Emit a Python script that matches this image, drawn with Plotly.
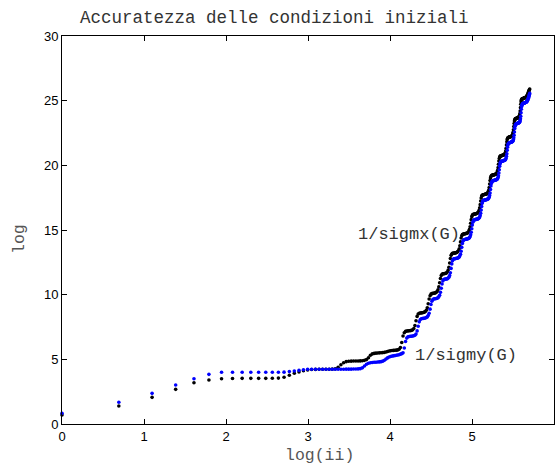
import numpy as np
import plotly.graph_objects as go

# iteration index and the two accuracy curves (log of 1/sigma)
ii = list(range(1, 301))

sigmx_log = [
    0.70, 1.39, 2.06, 2.68, 3.19, 3.40, 3.50, 3.52, 3.53, 3.53,
    3.53, 3.53, 3.54, 3.55, 3.62, 3.77, 3.92, 4.02, 4.12, 4.18,
    4.21, 4.22, 4.23, 4.23, 4.23, 4.23, 4.24, 4.26, 4.38, 4.58,
    4.74, 4.82, 4.85, 4.86, 4.87, 4.87, 4.87, 4.88, 4.89, 4.92,
    4.98, 5.12, 5.32, 5.42, 5.46, 5.48, 5.49, 5.50, 5.51, 5.52,
    5.54, 5.57, 5.61, 5.64, 5.66, 5.68, 5.69, 5.70, 5.71, 5.73,
    5.78, 5.92, 6.30, 6.80, 7.06, 7.16, 7.19, 7.20, 7.21, 7.22,
    7.24, 7.28, 7.38, 7.62, 7.98, 8.32, 8.50, 8.56, 8.58, 8.59,
    8.60, 8.62, 8.65, 8.70, 8.80, 8.98, 9.30, 9.66, 9.92, 10.04,
    10.08, 10.10, 10.11, 10.12, 10.14, 10.18, 10.25, 10.38, 10.60, 10.92,
    11.25, 11.48, 11.58, 11.61, 11.62, 11.63, 11.64, 11.66, 11.70, 11.77,
    11.90, 12.12, 12.45, 12.80, 13.04, 13.15, 13.19, 13.20, 13.21, 13.22,
    13.23, 13.24, 13.26, 13.29, 13.34, 13.42, 13.55, 13.78, 14.08, 14.38,
    14.56, 14.64, 14.67, 14.69, 14.70, 14.71, 14.72, 14.73, 14.74, 14.76,
    14.79, 14.84, 14.92, 15.05, 15.25, 15.52, 15.80, 16.02, 16.14, 16.19,
    16.21, 16.22, 16.23, 16.24, 16.25, 16.26, 16.27, 16.29, 16.32, 16.36,
    16.43, 16.54, 16.72, 16.96, 17.24, 17.48, 17.62, 17.68, 17.71, 17.72,
    17.73, 17.74, 17.75, 17.76, 17.77, 17.78, 17.79, 17.81, 17.84, 17.89,
    17.96, 18.08, 18.28, 18.55, 18.82, 19.02, 19.14, 19.19, 19.22, 19.23,
    19.24, 19.25, 19.26, 19.27, 19.28, 19.29, 19.30, 19.31, 19.33, 19.36,
    19.41, 19.49, 19.62, 19.82, 20.08, 20.34, 20.53, 20.64, 20.69, 20.72,
    20.73, 20.74, 20.75, 20.76, 20.77, 20.78, 20.79, 20.80, 20.81, 20.83,
    20.86, 20.91, 20.99, 21.12, 21.32, 21.58, 21.82, 21.99, 22.08, 22.13,
    22.15, 22.16, 22.17, 22.18, 22.19, 22.20, 22.21, 22.22, 22.23, 22.24,
    22.26, 22.29, 22.34, 22.42, 22.55, 22.75, 23.00, 23.24, 23.42, 23.52,
    23.57, 23.60, 23.61, 23.62, 23.63, 23.64, 23.65, 23.66, 23.67, 23.68,
    23.69, 23.71, 23.74, 23.79, 23.87, 24.00, 24.20, 24.46, 24.72, 24.92,
    25.04, 25.10, 25.13, 25.14, 25.15, 25.16, 25.17, 25.18, 25.19, 25.20,
    25.21, 25.22, 25.23, 25.24, 25.25, 25.26, 25.28, 25.30, 25.33, 25.36,
    25.40, 25.45, 25.50, 25.56, 25.62, 25.68, 25.74, 25.80, 25.85, 25.90,
]

sigmy_log = [
    0.83, 1.68, 2.37, 3.02, 3.50, 3.84, 4.00, 4.00, 4.00, 4.00,
    4.00, 4.00, 4.00, 4.00, 4.01, 4.05, 4.10, 4.15, 4.20, 4.23,
    4.23, 4.23, 4.23, 4.23, 4.23, 4.23, 4.23, 4.23, 4.23, 4.23,
    4.23, 4.24, 4.24, 4.24, 4.25, 4.25, 4.26, 4.28, 4.34, 4.48,
    4.62, 4.70, 4.74, 4.76, 4.77, 4.78, 4.79, 4.80, 4.82, 4.86,
    4.93, 5.02, 5.11, 5.18, 5.22, 5.25, 5.27, 5.29, 5.31, 5.33,
    5.36, 5.40, 5.44, 5.50, 5.88, 6.38, 6.64, 6.74, 6.77, 6.78,
    6.79, 6.80, 6.82, 6.86, 6.96, 7.20, 7.56, 7.90, 8.08, 8.14,
    8.16, 8.17, 8.18, 8.20, 8.23, 8.28, 8.38, 8.56, 8.88, 9.24,
    9.50, 9.62, 9.66, 9.68, 9.69, 9.70, 9.72, 9.76, 9.83, 9.96,
    10.18, 10.50, 10.83, 11.06, 11.16, 11.19, 11.20, 11.21, 11.22, 11.24,
    11.28, 11.35, 11.48, 11.70, 12.03, 12.38, 12.62, 12.73, 12.77, 12.78,
    12.79, 12.80, 12.81, 12.82, 12.84, 12.87, 12.92, 13.00, 13.13, 13.36,
    13.66, 13.96, 14.14, 14.22, 14.25, 14.27, 14.28, 14.29, 14.30, 14.31,
    14.32, 14.34, 14.37, 14.42, 14.50, 14.63, 14.83, 15.10, 15.38, 15.60,
    15.72, 15.77, 15.79, 15.80, 15.81, 15.82, 15.83, 15.84, 15.85, 15.87,
    15.90, 15.94, 16.01, 16.12, 16.30, 16.54, 16.82, 17.06, 17.20, 17.26,
    17.29, 17.30, 17.31, 17.32, 17.33, 17.34, 17.35, 17.36, 17.37, 17.39,
    17.42, 17.47, 17.54, 17.66, 17.86, 18.13, 18.40, 18.60, 18.72, 18.77,
    18.80, 18.81, 18.82, 18.83, 18.84, 18.85, 18.86, 18.87, 18.88, 18.89,
    18.91, 18.94, 18.99, 19.07, 19.20, 19.40, 19.66, 19.92, 20.11, 20.22,
    20.27, 20.30, 20.31, 20.32, 20.33, 20.34, 20.35, 20.36, 20.37, 20.38,
    20.39, 20.41, 20.44, 20.49, 20.57, 20.70, 20.90, 21.16, 21.40, 21.57,
    21.66, 21.71, 21.73, 21.74, 21.75, 21.76, 21.77, 21.78, 21.79, 21.80,
    21.81, 21.82, 21.84, 21.87, 21.92, 22.00, 22.13, 22.33, 22.58, 22.84,
    23.02, 23.12, 23.17, 23.20, 23.21, 23.22, 23.23, 23.24, 23.25, 23.26,
    23.27, 23.28, 23.29, 23.31, 23.34, 23.39, 23.47, 23.60, 23.80, 24.06,
    24.34, 24.54, 24.66, 24.72, 24.75, 24.77, 24.78, 24.79, 24.80, 24.81,
    24.82, 24.83, 24.84, 24.85, 24.86, 24.87, 24.88, 24.89, 24.91, 24.94,
    24.97, 25.01, 25.06, 25.12, 25.18, 25.24, 25.32, 25.40, 25.48, 25.56,
]

x_ticks = [0, 1, 2, 3, 4, 5, 6]
y_ticks = [0, 5, 10, 15, 20, 25, 30]

assert len(sigmx_log) == len(ii) and len(sigmy_log) == len(ii)

log_ii = np.log(ii)

MONO = "Liberation Mono, Courier New, monospace"
SANS = "Liberation Sans, Arial, Helvetica, sans-serif"

# plot-area geometry in pixels, used to place the free-standing labels
PX_L, PX_R, PX_T, PX_B = 62, 554, 36, 424


def paper_x(px):
    return (px - PX_L) / (PX_R - PX_L)


def paper_y(py):
    return (PX_B - py) / (PX_B - PX_T)


fig = go.Figure()
fig.add_trace(go.Scatter(
    x=log_ii, y=sigmx_log, mode="markers", name="1/sigmx(G)",
    marker=dict(color="#000000", size=3.6, line=dict(width=0)),
    cliponaxis=False,
))
fig.add_trace(go.Scatter(
    x=log_ii, y=sigmy_log, mode="markers", name="1/sigmy(G)",
    marker=dict(color="#0000ff", size=3.6, line=dict(width=0)),
    cliponaxis=False,
))

axis_common = dict(
    showline=True, linecolor="#000000", linewidth=1, mirror="ticks",
    ticks="inside", ticklen=5, tickwidth=1, tickcolor="#000000",
    showgrid=False, zeroline=False,
    tickfont=dict(family=SANS, size=13, color="#000000"),
)

fig.update_layout(
    width=557, height=467,
    margin=dict(l=PX_L, r=557 - PX_R, t=PX_T, b=467 - PX_B),
    paper_bgcolor="#ffffff", plot_bgcolor="#ffffff",
    showlegend=False,
    xaxis=dict(range=[0, 6], tickvals=x_ticks, **axis_common),
    yaxis=dict(range=[0, 30], tickvals=y_ticks, **axis_common),
    annotations=[
        dict(text="Accuratezza delle condizioni iniziali", xref="paper", yref="paper",
             x=paper_x(274), y=paper_y(18), xanchor="center", yanchor="middle",
             showarrow=False, font=dict(family=MONO, size=17.5, color="#333333")),
        dict(text="log(ii)", xref="paper", yref="paper",
             x=paper_x(319), y=paper_y(455), xanchor="center", yanchor="middle",
             showarrow=False, font=dict(family=MONO, size=16.5, color="#555555")),
        dict(text="log", xref="paper", yref="paper", textangle=-90,
             x=paper_x(20), y=paper_y(239), xanchor="center", yanchor="middle",
             showarrow=False, font=dict(family=MONO, size=16.5, color="#555555")),
        dict(text="1/sigmx(G)", xref="paper", yref="paper",
             x=paper_x(409), y=paper_y(235), xanchor="center", yanchor="middle",
             showarrow=False, font=dict(family=MONO, size=17, color="#333333")),
        dict(text="1/sigmy(G)", xref="paper", yref="paper",
             x=paper_x(466), y=paper_y(355), xanchor="center", yanchor="middle",
             showarrow=False, font=dict(family=MONO, size=17, color="#333333")),
    ],
)

fig.write_html("out.html")
